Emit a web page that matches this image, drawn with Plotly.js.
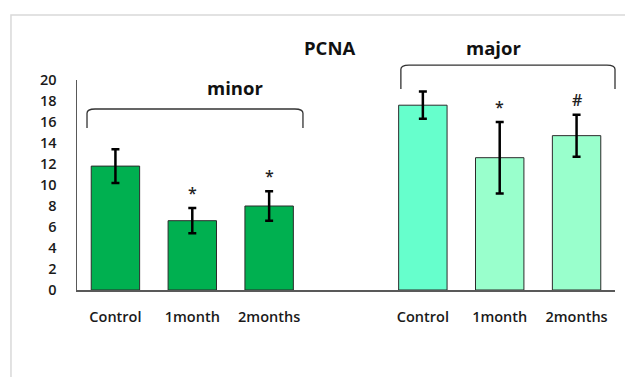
<!DOCTYPE html>
<html>
<head>
<meta charset="utf-8">
<script src="https://cdn.plot.ly/plotly-3.0.1.min.js"></script>
<style>
html,body{margin:0;padding:0;background:#fff;}
#chart{width:625px;height:377px;}
</style>
</head>
<body>
<div id="chart"></div>
<script>
// Data
const categories = ['Control', '1month', '2months'];
const minorValues = [11.8, 6.6, 8.0];
const minorErrors = [1.6, 1.2, 1.4];
const minorMarks = ['', '*', '*'];
const majorValues = [17.6, 12.6, 14.7];
const majorErrors = [1.3, 3.4, 2.0];
const majorMarks = ['', '*', '#'];
const yTicks = [0, 2, 4, 6, 8, 10, 12, 14, 16, 18, 20];

const minorIds = categories.map(c => 'minor ' + c);
const majorIds = categories.map(c => 'major ' + c);
const order = minorIds.concat(['gap'], majorIds);
const orderText = categories.concat([''], categories);

const baseFont = {family: 'Open Sans, sans-serif', size: 14.5, color: '#1a1a1a', weight: 600};

const traces = [
  {
    type: 'bar', x: minorIds, y: minorValues,
    marker: {color: '#00B050', line: {color: '#2b2b2b', width: 1}},
    error_y: {type: 'data', array: minorErrors, visible: true, color: '#000', thickness: 2.5, width: 4},
    width: 0.63, showlegend: false, hoverinfo: 'skip'
  },
  {
    type: 'bar', x: majorIds, y: majorValues,
    marker: {color: ['#66FFCC', '#99FFCC', '#99FFCC'], line: {color: '#2b2b2b', width: 1}},
    error_y: {type: 'data', array: majorErrors, visible: true, color: '#000', thickness: 2.5, width: 4},
    width: 0.63, showlegend: false, hoverinfo: 'skip'
  }
];

const annotations = [];
function addMarks(ids, vals, errs, marks) {
  ids.forEach((id, i) => {
    if (!marks[i]) return;
    annotations.push({
      x: id, y: vals[i] + errs[i], xref: 'x', yref: 'y',
      text: marks[i], showarrow: false, yanchor: 'bottom', yshift: 2,
      font: {family: 'Open Sans, sans-serif', size: 16, color: '#222', weight: 600}
    });
  });
}
addMarks(minorIds, minorValues, minorErrors, minorMarks);
addMarks(majorIds, majorValues, majorErrors, majorMarks);

const headFont = {family: 'Open Sans, sans-serif', size: 18.5, color: '#111', weight: 700};
annotations.push({xref: 'paper', yref: 'paper', x: 0.47, y: 1.157, yanchor: 'middle', text: 'PCNA', showarrow: false, font: headFont});
annotations.push({xref: 'paper', yref: 'paper', x: 0.829, y: 1.157, yanchor: 'middle', text: 'major', showarrow: false, font: headFont});
annotations.push({xref: 'paper', yref: 'paper', x: 0.238, y: 0.962, yanchor: 'middle', text: 'minor', showarrow: false, font: headFont});

function bracket(x0, x1, yTop, yBot) {
  const r = 0.015, ry = 0.02;
  return {
    type: 'path', xref: 'paper', yref: 'paper',
    path: `M ${x0} ${yBot} L ${x0} ${yTop - ry} Q ${x0} ${yTop} ${x0 + r} ${yTop} L ${x1 - r} ${yTop} Q ${x1} ${yTop} ${x1} ${yTop - ry} L ${x1} ${yBot}`,
    line: {color: '#333', width: 1.3}
  };
}

const shapes = [
  bracket(0.0186, 0.42, 0.862, 0.771),
  bracket(0.602, 1.0, 1.071, 0.957),
  {type: 'rect', xref: 'paper', yref: 'paper', x0: -0.1227, x1: 1.5, y0: -0.6, y1: 1.3095,
   line: {color: '#d9d9d9', width: 1.5}, fillcolor: 'rgba(0,0,0,0)', layer: 'below'}
];

const layout = {
  width: 625, height: 377,
  margin: {l: 77, r: 10, t: 80, b: 87},
  paper_bgcolor: '#fff', plot_bgcolor: '#fff',
  showlegend: false,
  bargap: 0.37,
  xaxis: {
    type: 'category', categoryorder: 'array', categoryarray: order,
    tickvals: order, ticktext: orderText,
    showgrid: false, zeroline: false, showline: true, linecolor: '#595959', linewidth: 1.5,
    ticks: '', tickfont: baseFont, ticklabelstandoff: 13, fixedrange: true
  },
  yaxis: {
    range: [0, 20], tickvals: yTicks, showgrid: false, zeroline: false,
    showline: true, linecolor: '#595959', linewidth: 1.5,
    ticks: '', tickfont: baseFont, ticklabelstandoff: 16, fixedrange: true
  },
  annotations: annotations,
  shapes: shapes
};

Plotly.newPlot('chart', traces, layout, {displayModeBar: false, staticPlot: true});
</script>
</body>
</html>
